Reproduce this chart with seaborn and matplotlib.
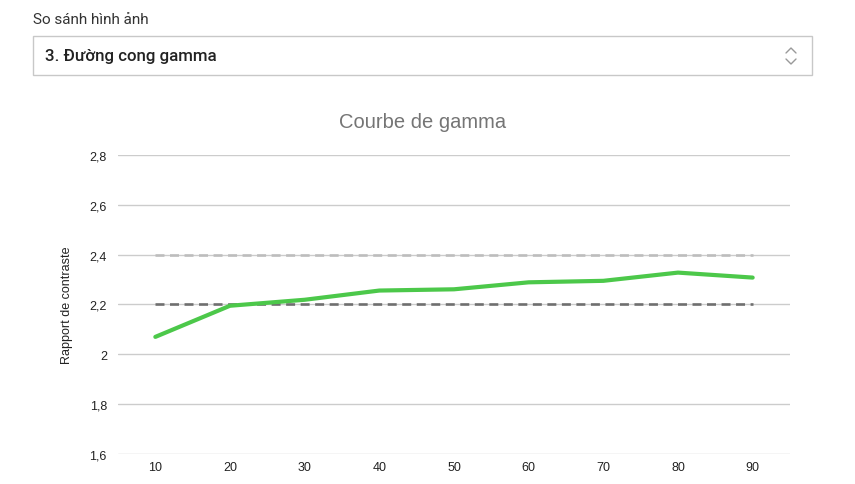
import matplotlib
matplotlib.use("Agg")
import matplotlib.pyplot as plt
from matplotlib.patches import Rectangle
from matplotlib.lines import Line2D
from matplotlib.ticker import FuncFormatter
import seaborn as sns
import pandas as pd

# ---- data ----
x_values = [10, 20, 30, 40, 50, 60, 70, 80, 90]
gamma_values = [2.07, 2.195, 2.219, 2.256, 2.261, 2.289, 2.295, 2.328, 2.308]
ref_high = [2.4] * 9
ref_low = [2.2] * 9
y_ticks = [1.6, 1.8, 2.0, 2.2, 2.4, 2.6, 2.8]
x_ticks = [10, 20, 30, 40, 50, 60, 70, 80, 90]
title = "Courbe de gamma"
y_label = "Rapport de contraste"
header_label = "So sánh hình ảnh"
select_text = "3. Đường cong gamma"

df = pd.DataFrame({"x": x_values, "gamma": gamma_values,
                   "high": ref_high, "low": ref_low})

sns.set_theme(style="white")
plt.rcParams['font.family'] = ['Liberation Sans', 'DejaVu Sans']

W, H = 855, 485
fig = plt.figure(figsize=(W / 100, H / 100), dpi=100)

def fx(px):
    return px / W

def fy(py):
    return 1 - py / H

# UI header
fig.text(fx(33), fy(20), header_label, fontsize=11, color="#333333",
         ha="left", va="center", family=['Roboto', 'DejaVu Sans'])
fig.patches.append(Rectangle((fx(33), fy(76)), fx(812) - fx(33), fy(37) - fy(76),
                             transform=fig.transFigure, facecolor="white",
                             edgecolor="#c8c8c8", linewidth=1.0))
fig.text(fx(45), fy(57), select_text, fontsize=12.2, color="#222222",
         ha="left", va="center", fontweight="medium", family=['Roboto', 'DejaVu Sans'])
# chevron
for pts in ([(786, 54), (791, 49), (796, 54)], [(786, 60), (791, 65), (796, 60)]):
    fig.lines.append(Line2D([fx(p[0]) for p in pts], [fy(p[1]) for p in pts],
                            transform=fig.transFigure, color="#999999", linewidth=1.0))

# chart
ax = fig.add_axes([fx(118), fy(455), fx(790) - fx(118), fy(156) - fy(455)])
ax.set_xlim(5, 95)
ax.set_ylim(1.6, 2.8)
ax.set_yticks(y_ticks)
ax.set_xticks(x_ticks)
ax.grid(axis="y", color="#cccccc", linewidth=1.0)
ax.grid(axis="x", visible=False)
for s in ax.spines.values():
    s.set_visible(False)

sns.lineplot(data=df, x="x", y="high", ax=ax, color="#bdbdbd", linewidth=1.9,
             zorder=3)
ax.lines[-1].set_dashes((3.4, 2.1))
ax.lines[-1].set_dash_capstyle("butt")
sns.lineplot(data=df, x="x", y="low", ax=ax, color="#6f6f6f", linewidth=1.9,
             zorder=3)
ax.lines[-1].set_dashes((3.4, 2.1))
ax.lines[-1].set_dash_capstyle("butt")
sns.lineplot(data=df, x="x", y="gamma", ax=ax, color="#4cc84a", linewidth=3.0,
             zorder=4)

def fmt(v, pos):
    s = f"{v:.1f}".rstrip("0").rstrip(".")
    return s.replace(".", ",")

ax.yaxis.set_major_formatter(FuncFormatter(fmt))
ax.tick_params(axis="both", length=0, labelsize=9, labelcolor="#222222")
ax.tick_params(axis="y", pad=8)
ax.tick_params(axis="x", pad=5)
ax.set_xlabel("")
ax.set_ylabel(y_label, fontsize=9, color="#222222", labelpad=12)
fig.text(fx(423), fy(123), title, fontsize=14.5, color="#757575",
         ha="center", va="center")

fig.savefig("out.png", dpi=100)
